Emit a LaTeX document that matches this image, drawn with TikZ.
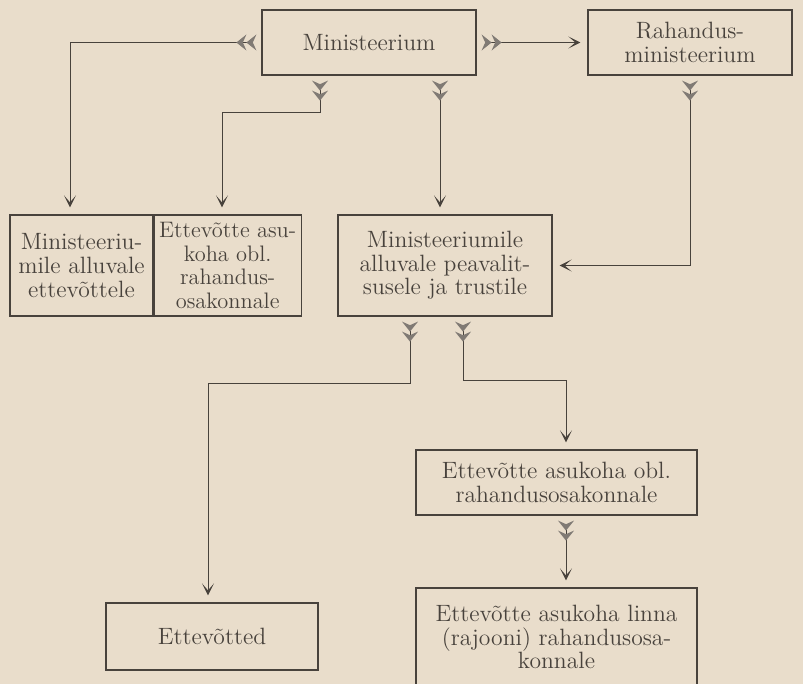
\documentclass[tikz,border=0pt]{standalone}
\usepackage{tikz}
\usetikzlibrary{arrows.meta,positioning}
\definecolor{paper}{RGB}{233,221,203}
\definecolor{ink}{RGB}{72,66,60}
\definecolor{fletch}{RGB}{128,122,116}
\tikzset{
  fth/.tip={Stealth[reversed,length=5pt,width=8pt,inset=1.8pt,color=fletch]Stealth[reversed,length=5pt,width=8pt,inset=1.8pt,color=fletch]},
  hd/.tip={Stealth[length=6pt,width=6pt,inset=3.5pt,color=ink]}
}
\tikzstyle{box}=[draw=ink, line width=0.6pt, text=ink, align=center,
                 inner sep=0pt, font=\fontsize{11.8}{11.8}\selectfont]
\tikzstyle{link}=[draw=ink, line width=0.5pt, fth-hd, shorten <=2.5pt, shorten >=3.5pt]

\begin{document}
\begin{tikzpicture}[x=0.5pt,y=-0.5pt]
\fill[paper] (0,0) rectangle (803,684);
\useasboundingbox (0,0) rectangle (803,684);

% top row
\node[box, minimum width=107pt, minimum height=32.5pt] (min) at (369,42.5) {Ministeerium};
\node[box, minimum width=102pt, minimum height=32.5pt] (rah) at (690,42.5) {Rahandus-\\ministeerium};

% second row
\node[box, minimum width=71.5pt, minimum height=50.5pt] (lmin) at (81.5,265.5) {Ministeeriu-\\mile alluvale\\ettevõttele};
\node[box, minimum width=73.5pt, minimum height=50.5pt, font=\fontsize{11.2}{11.8}\selectfont, right=0pt of lmin] (lobl) {Ettevõtte asu-\\koha obl.\\rahandus-\\osakonnale};
\node[box, minimum width=107pt, minimum height=50.5pt] (mid) at (445,265.5) {Ministeeriumile\\alluvale peavalit-\\susele ja trustile};

% lower part
\node[box, minimum width=140.5pt, minimum height=32.5pt] (obl) at (556.5,482.5) {Ettevõtte asukoha obl.\\rahandusosakonnale};
\node[box, minimum width=140.5pt, minimum height=49pt] (linn) at (556.5,637) {Ettevõtte asukoha linna\\(rajooni) rahandusosa-\\konnale};
\node[box, minimum width=106pt, minimum height=33.5pt] (ett) at (212,636.5) {Ettevõtted};

\draw[link] (min.west) -| (lmin.north -| 70,0);
\draw[link] (min.east) -- (rah.west);
\draw[link] (min.south -| 320,0) -- (320,113) -| (lobl.north -| 222,0);
\draw[link] (min.south -| 440,0) -- (mid.north -| 440,0);
\draw[link] (rah.south) |- (mid.east);
\draw[link] (mid.south -| 410,0) -- (410,383) -| (ett.north -| 208,0);
\draw[link] (mid.south -| 463,0) -- (463,380) -| (obl.north -| 566,0);
\draw[link] (obl.south -| 566,0) -- (linn.north -| 566,0);
\end{tikzpicture}
\end{document}
